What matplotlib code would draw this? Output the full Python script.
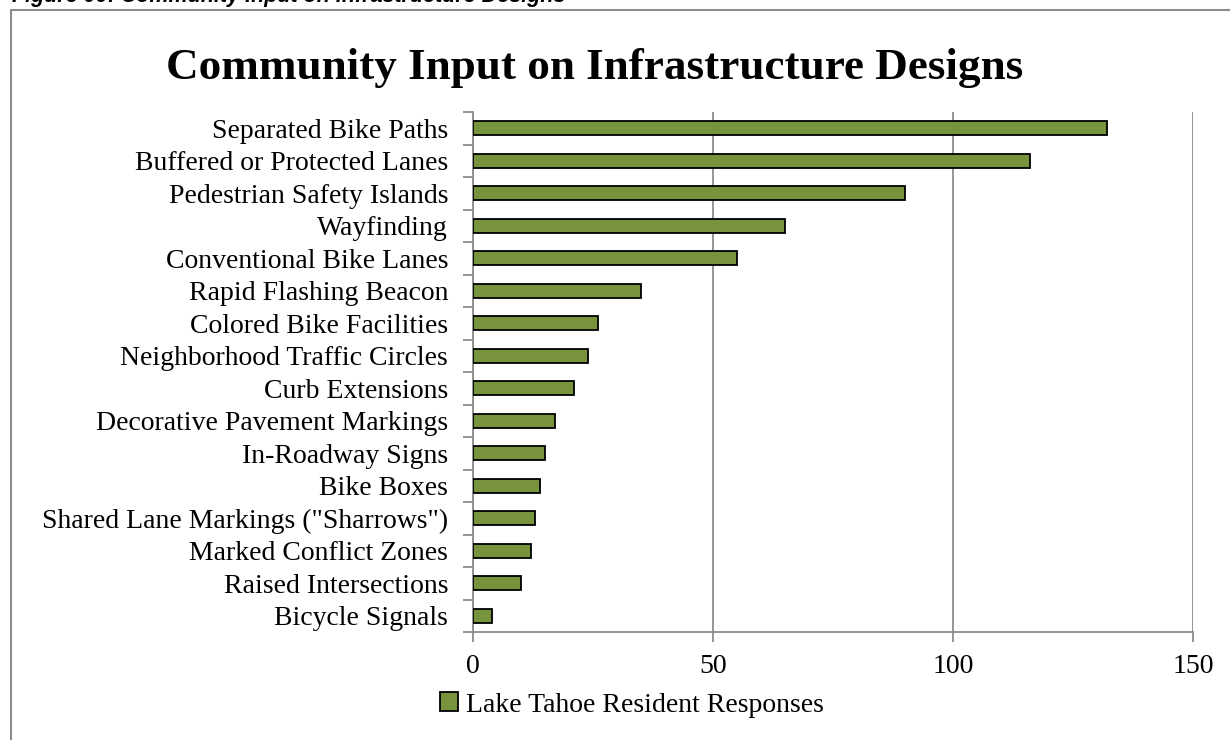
import matplotlib.pyplot as plt
from matplotlib.patches import Rectangle

# survey results
categories = ['Separated Bike Paths', 'Buffered or Protected Lanes',
              'Pedestrian Safety Islands', 'Wayfinding',
              'Conventional Bike Lanes', 'Rapid Flashing Beacon',
              'Colored Bike Facilities', 'Neighborhood Traffic Circles',
              'Curb Extensions', 'Decorative Pavement Markings',
              'In-Roadway Signs', 'Bike Boxes',
              'Shared Lane Markings ("Sharrows")', 'Marked Conflict Zones',
              'Raised Intersections', 'Bicycle Signals']
responses = [132, 116, 90, 65, 55, 35, 26, 24, 21, 17, 15, 14, 13, 12, 10, 4]
x_ticks = [0, 50, 100, 150]
series_name = 'Lake Tahoe Resident Responses'

W, H = 1230, 740
serif = ['Liberation Serif', 'DejaVu Serif']
grey = '#8c8c8c'

fig = plt.figure(figsize=(W / 100, H / 100), dpi=100)
ax = fig.add_axes([473 / W, 1 - 632 / H, 720 / W, 520 / H])

n = len(categories)
pos = [n - 1 - i for i in range(n)]   # first category on top
ax.barh(pos, responses, height=0.43, color='#77933C', edgecolor='black',
        linewidth=1.3, label=series_name, zorder=3)

ax.set_xlim(0, 150)
ax.set_ylim(-0.5, n - 0.5)
ax.set_xticks(x_ticks)
ax.set_xticklabels([str(t) for t in x_ticks], fontfamily=serif, fontsize=20)
ax.set_yticks(pos)
ax.set_yticklabels(categories, fontfamily=serif, fontsize=20)
ax.tick_params(axis='y', length=0, pad=18)
ax.set_yticks([b - 0.5 for b in range(n + 1)], minor=True)
ax.tick_params(axis='y', which='minor', length=7, color=grey, width=1.3)
ax.tick_params(axis='x', length=7, color=grey, width=1.3, pad=9)

ax.grid(axis='x', color=grey, linewidth=1.3, zorder=0)
for side in ['top', 'right']:
    ax.spines[side].set_visible(False)
for side in ['left', 'bottom']:
    ax.spines[side].set_color(grey)
    ax.spines[side].set_linewidth(1.3)

fig.legend(loc='center', bbox_to_anchor=(632 / W, 1 - 705 / H), frameon=False,
           prop={'family': serif, 'size': 20}, handlelength=0.65,
           handleheight=0.65, handletextpad=0.3)

fig.text(595 / W, 1 - 68 / H, 'Community Input on Infrastructure Designs',
         ha='center', va='center', fontfamily=serif, fontweight='bold',
         fontsize=32.5)

# cut-off caption above the frame
fig.text(12 / W, 1 - 2 / H, 'Figure 00: Community Input on Infrastructure Designs',
         ha='left', va='baseline', fontfamily=['Liberation Sans', 'DejaVu Sans'],
         fontweight='bold', fontstyle='italic', fontsize=15.5)

fig.patches.append(Rectangle((11 / W, -0.01), 1.0, 1 - 10 / H + 0.01,
                             transform=fig.transFigure, fill=False,
                             edgecolor=grey, linewidth=1.5))

fig.savefig('out.png', dpi=100)
